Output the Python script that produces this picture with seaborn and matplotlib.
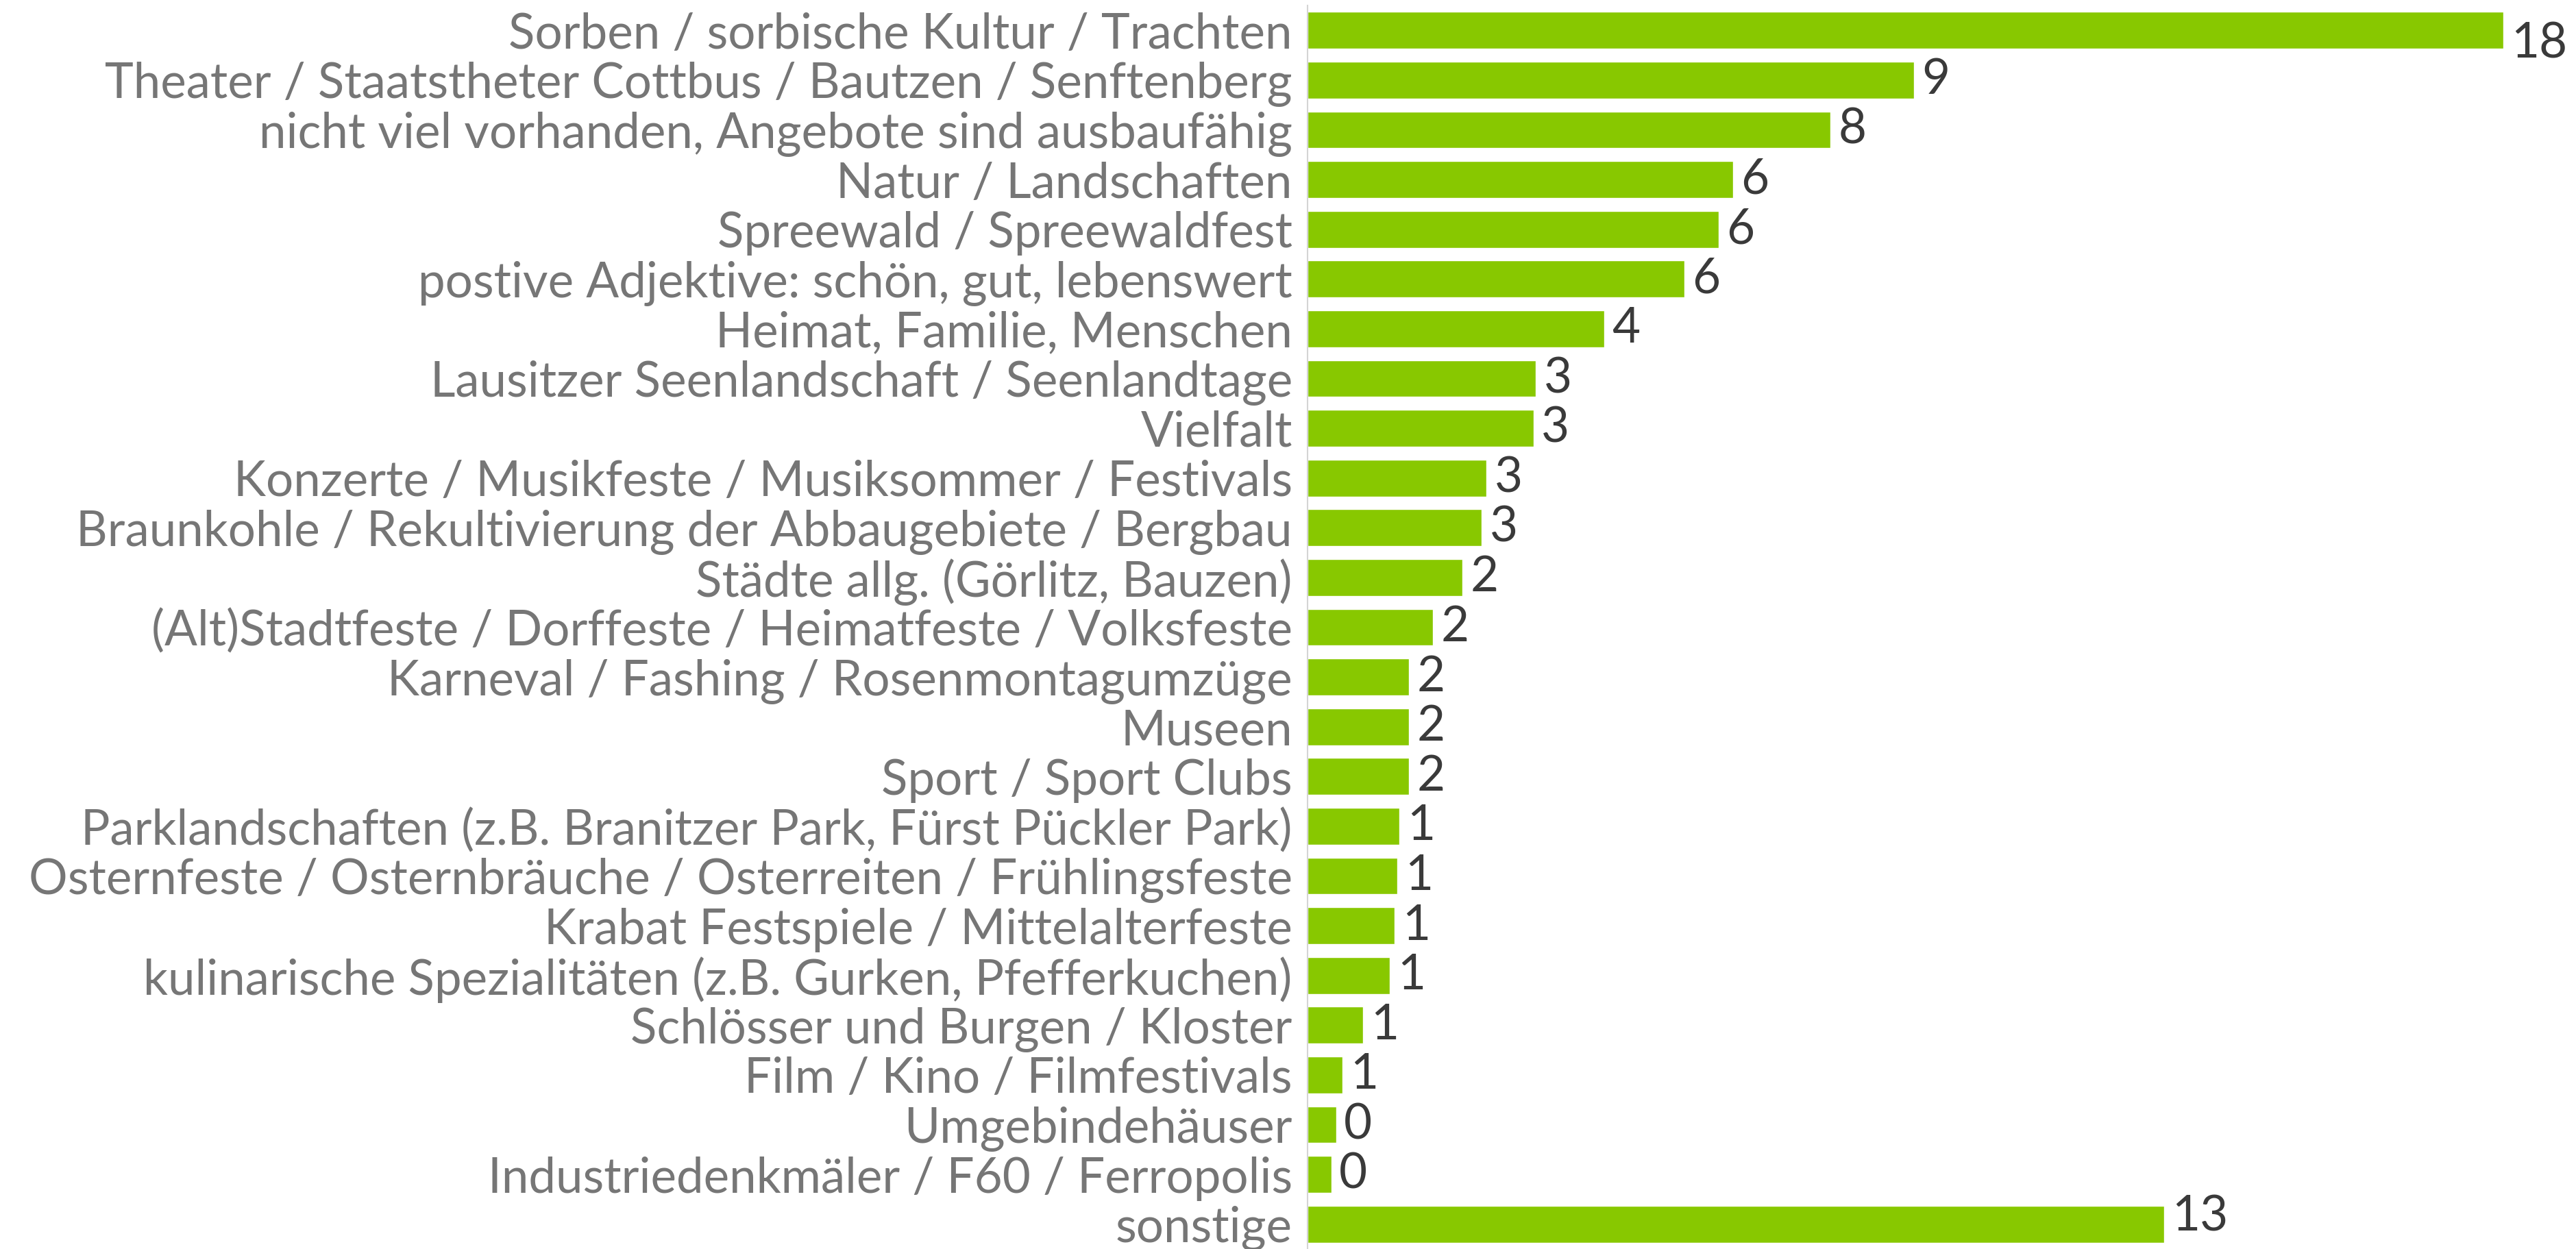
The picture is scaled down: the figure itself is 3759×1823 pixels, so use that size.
import matplotlib
matplotlib.use("Agg")
import matplotlib.pyplot as plt
import seaborn as sns
import pandas as pd

categories = [
    "Sorben / sorbische Kultur / Trachten",
    "Theater / Staatstheter Cottbus / Bautzen / Senftenberg",
    "nicht viel vorhanden, Angebote sind ausbaufähig",
    "Natur / Landschaften",
    "Spreewald / Spreewaldfest",
    "postive Adjektive: schön, gut, lebenswert",
    "Heimat, Familie, Menschen",
    "Lausitzer Seenlandschaft / Seenlandtage",
    "Vielfalt",
    "Konzerte / Musikfeste / Musiksommer / Festivals",
    "Braunkohle / Rekultivierung der Abbaugebiete / Bergbau",
    "Städte allg. (Görlitz, Bauzen)",
    "(Alt)Stadtfeste / Dorffeste / Heimatfeste / Volksfeste",
    "Karneval / Fashing / Rosenmontagumzüge",
    "Museen",
    "Sport / Sport Clubs",
    "Parklandschaften (z.B. Branitzer Park, Fürst Pückler Park)",
    "Osternfeste / Osternbräuche / Osterreiten / Frühlingsfeste",
    "Krabat Festspiele / Mittelalterfeste",
    "kulinarische Spezialitäten (z.B. Gurken, Pfefferkuchen)",
    "Schlösser und Burgen / Kloster",
    "Film / Kino / Filmfestivals",
    "Umgebindehäuser",
    "Industriedenkmäler / F60 / Ferropolis",
    "sonstige",
]
values = [17.9, 9.08, 7.83, 6.37, 6.15, 5.64, 4.44, 3.42, 3.38, 2.68, 2.61,
          2.32, 1.88, 1.52, 1.52, 1.52, 1.37, 1.34, 1.30, 1.23, 0.83, 0.52,
          0.43, 0.36, 12.82]

df = pd.DataFrame({"Kategorie": categories, "Wert": values})

sns.set_theme(style="white")
plt.rcParams["font.family"] = ["Lato", "DejaVu Sans"]

W, H = 3759, 1823
fig = plt.figure(figsize=(W / 100, H / 100), dpi=100)
ax = fig.add_axes([1908 / W, 0, 1 - 1908 / W, 1 - 8 / H])

sns.barplot(data=df, y="Kategorie", x="Wert", orient="h", color="#88c800",
            saturation=1, width=0.74, ax=ax)

ax.set_ylim(len(categories) - 0.5, -0.5)
ax.set_xlim(0, 1851 / 97.5)

labels = ax.bar_label(ax.containers[0], fmt="{:.0f}", padding=8, fontsize=51,
                      color="#3a3a3a")
# Tableau pushed the edge labels slightly off-centre
labels[0].xyann = (8, -14)
labels[-1].xyann = (8, 8)

ax.set_xlabel("")
ax.set_ylabel("")
ax.set_xticks([])
ax.tick_params(axis="y", length=0, pad=16, labelsize=51, labelcolor="#767676")
for s in ["top", "right", "bottom"]:
    ax.spines[s].set_visible(False)
ax.spines["left"].set_color("#d4d4d4")
ax.spines["left"].set_linewidth(1.5)

fig.savefig("out.png", dpi=100, facecolor="white")
